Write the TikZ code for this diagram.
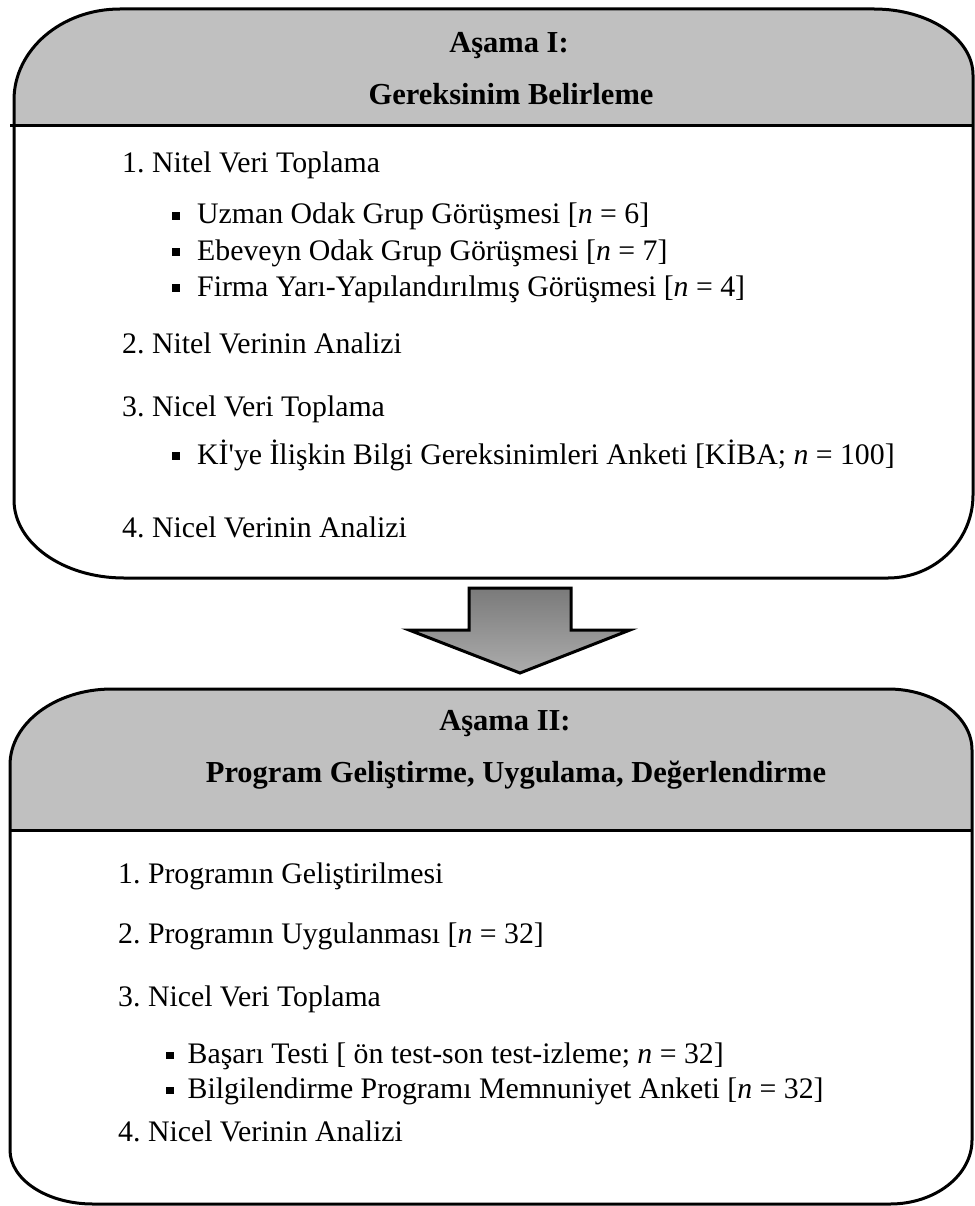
\documentclass[tikz,border=0pt]{standalone}
\usepackage{fontspec}
\setmainfont{Liberation Serif}
\frenchspacing
\begin{document}
\begin{tikzpicture}[x=1pt,y=-1pt,
  outline/.style={draw=black,line width=3pt},
  hdrfill/.style={fill={rgb,255:red,192;green,192;blue,192}},
  hdrtext/.style={anchor=base,inner sep=0pt,font=\fontsize{30.5}{36}\selectfont\bfseries},
  itemtext/.style={anchor=base west,inner sep=0pt,font=\fontsize{29.8}{35}\selectfont},
  bul/.style={itemtext}]
\useasboundingbox (0,0) rectangle (974,1206);
\newcommand{\bx}{\rule[0.12em]{8pt}{8pt}\hspace{17pt}}
\newcommand{\bxb}{\rule[0.12em]{7.5pt}{7.5pt}\hspace{14pt}}
% ---------- Box I ----------
\def\boxIpath{(120,9) -- (874,9) .. controls (928.7,9) and (973,38.5) .. (973,75)
  -- (973,495) .. controls (973,540.8) and (934.9,578) .. (888,578)
  -- (124,578) .. controls (63.2,578) and (14,543.1) .. (14,500)
  -- (14,100) .. controls (14,49.7) and (61.5,9) .. (120,9) -- cycle}
\fill[white] \boxIpath;
\begin{scope}
  \clip \boxIpath;
  \fill[hdrfill] (0,0) rectangle (974,126);
\end{scope}
\draw[outline] \boxIpath;
\draw[outline] (10,126) -- (973,126);
\node[hdrtext] (h1a) at (509,53) {Aşama I:};
\node[hdrtext] (h1b) at (511,105) {Gereksinim Belirleme};
\node[itemtext] (a1) at (122,173) {1. Nitel Veri Toplama};
\node[bul] (a1a) at (172,224) {\bx Uzman Odak Grup Görüşmesi [\textit{n} = 6]};
\node[bul] (a1b) at (172,260) {\bx Ebeveyn Odak Grup Görüşmesi [\textit{n} = 7]};
\node[bul] (a1c) at (172,296) {\bx Firma Yarı-Yapılandırılmış Görüşmesi [\textit{n} = 4]};
\node[itemtext] (a2) at (122,353) {2. Nitel Verinin Analizi};
\node[itemtext] (a3) at (122,416) {3. Nicel Veri Toplama};
\node[bul] (a3a) at (172,464) {\bx K\.I\textquotesingle ye İlişkin Bilgi Gereksinimleri Anketi [KİBA; \textit{n} = 100]};
\node[itemtext] (a4) at (122,537) {4. Nicel Verinin Analizi};
% ---------- Arrow ----------
\path[draw=black,line width=3pt,line join=miter,
  top color={rgb,255:red,122;green,122;blue,122},
  bottom color={rgb,255:red,172;green,172;blue,172}]
  (469,588) -- (571,588) -- (571,630) -- (630,630) -- (520,673)
  -- (409,630) -- (469,630) -- cycle;
% ---------- Box II ----------
\def\boxIIpath{(112,689) -- (888,689) .. controls (934.4,689) and (972,716.3) .. (972,750)
  -- (972,1140) .. controls (972,1175.3) and (935.3,1204) .. (890,1204)
  -- (93,1204) .. controls (47.2,1204) and (10,1179.8) .. (10,1150)
  -- (10,765) .. controls (10,723) and (55.7,689) .. (112,689) -- cycle}
\fill[white] \boxIIpath;
\begin{scope}
  \clip \boxIIpath;
  \fill[hdrfill] (0,680) rectangle (974,830);
\end{scope}
\draw[outline] \boxIIpath;
\draw[outline] (10,830) -- (972,830);
\node[hdrtext] (h2a) at (505,730) {Aşama II:};
\node[hdrtext] (h2b) at (516,782) {Program Geliştirme, Uygulama, Değerlendirme};
\node[itemtext] (b1) at (118,883) {1. Programın Geliştirilmesi};
\node[itemtext] (b2) at (118,943) {2. Programın Uygulanması [\textit{n} = 32]};
\node[itemtext] (b3) at (118,1006) {3. Nicel Veri Toplama};
\node[bul] (b3a) at (166,1063) {\bxb Başarı Testi [ ön test-son test-izleme; \textit{n} = 32]};
\node[bul] (b3b) at (166,1098) {\bxb Bilgilendirme Programı Memnuniyet Anketi [\textit{n} = 32]};
\node[itemtext] (b4) at (118,1141) {4. Nicel Verinin Analizi};
\end{tikzpicture}
\end{document}
